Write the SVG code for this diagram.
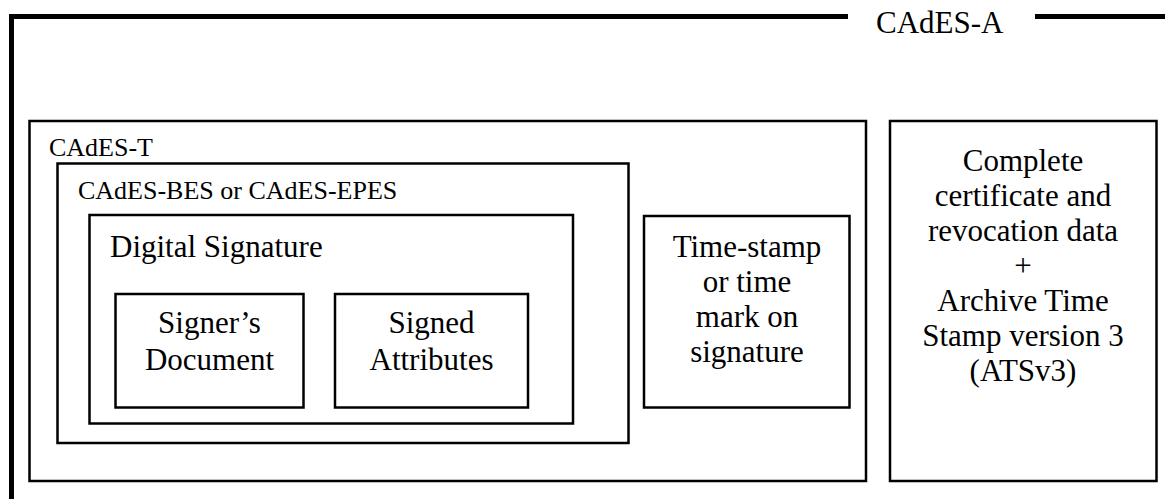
<svg xmlns="http://www.w3.org/2000/svg" width="1165" height="499" viewBox="0 0 1165 499">
  <style>
    .box { fill: none; stroke: #000; stroke-width: 2.5; }
    .frame { fill: none; stroke: #000; stroke-width: 5; }
    text { font-family: "Liberation Serif", "Times New Roman", serif; fill: #000; }
    .big { font-size: 31px; }
    .small { font-size: 26px; }
    .mid { text-anchor: middle; }
  </style>
  <rect width="1165" height="499" fill="#fff"/>

  <!-- CAdES-A outer frame (open at the bottom and right) -->
  <g id="cades-a">
    <path class="frame" d="M11.5,499 V16.5 H848 M1035,16.5 H1165"/>
    <text class="big" x="876" y="33">CAdES-A</text>
  </g>

  <g id="cades-t">
    <rect class="box" x="29.5" y="121" width="836.5" height="360"/>
    <text class="small" x="49" y="156">CAdES-T</text>
  </g>

  <g id="cades-bes">
    <rect class="box" x="57.5" y="163.5" width="571" height="279.5"/>
    <text class="small" x="78" y="199">CAdES-BES or CAdES-EPES</text>
  </g>

  <g id="digital-signature">
    <rect class="box" x="89.5" y="215" width="483.5" height="208.5"/>
    <text class="big" x="110" y="257">Digital Signature</text>
  </g>

  <g id="signers-document">
    <rect class="box" x="115.5" y="294" width="188" height="113.5"/>
    <text class="big mid" x="209.5" y="333">Signer’s</text>
    <text class="big mid" x="209.5" y="370">Document</text>
  </g>

  <g id="signed-attributes">
    <rect class="box" x="335" y="294" width="193" height="113.5"/>
    <text class="big mid" x="431.5" y="333">Signed</text>
    <text class="big mid" x="431.5" y="370">Attributes</text>
  </g>

  <g id="time-stamp">
    <rect class="box" x="644" y="216" width="205.5" height="191.5"/>
    <text class="big mid" x="747" y="257">Time-stamp</text>
    <text class="big mid" x="747" y="292">or time</text>
    <text class="big mid" x="747" y="327">mark on</text>
    <text class="big mid" x="747" y="362">signature</text>
  </g>

  <g id="archive-data">
    <rect class="box" x="890" y="121" width="266.5" height="360"/>
    <text class="big mid" x="1023" y="171">Complete</text>
    <text class="big mid" x="1023" y="206">certificate and</text>
    <text class="big mid" x="1023" y="241">revocation data</text>
    <text class="big mid" x="1023" y="276">+</text>
    <text class="big mid" x="1023" y="311">Archive Time</text>
    <text class="big mid" x="1023" y="346">Stamp version 3</text>
    <text class="big mid" x="1023" y="381">(ATSv3)</text>
  </g>

  <!-- no connectors in this diagram -->
  <g id="connectors"/>
</svg>
